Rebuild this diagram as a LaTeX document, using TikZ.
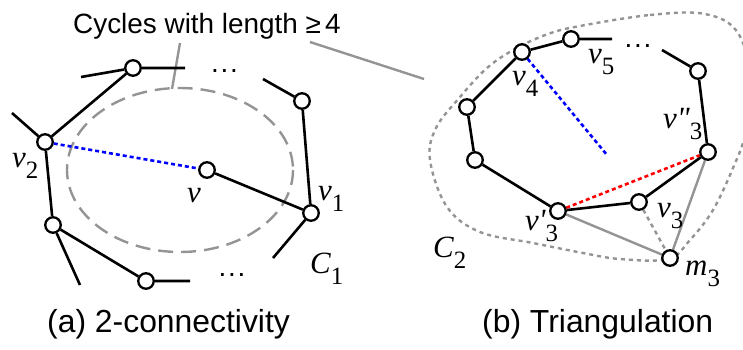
\documentclass[tikz,border=0pt]{standalone}
\usepackage{fontspec}
\setmainfont{Liberation Sans}
\newfontfamily\serfont{Liberation Serif}
\pgfdeclarelayer{bg}
\pgfsetlayers{bg,main}
\newcommand{\lab}[2]{{\serfont\fontsize{31}{31}\selectfont\itshape #1}\raisebox{-11bp}{\serfont\fontsize{25}{25}\selectfont #2}}
\newcommand{\mydots}{.\hspace{1.8bp}.\hspace{1.8bp}.}
\begin{document}
\begin{tikzpicture}[x=1bp,y=-1bp,
  vtx/.style={circle,draw=black,fill=white,line width=2.3bp,minimum size=15.5bp,inner sep=0pt},
  edge/.style={line width=2.6bp,black},
  gedge/.style={line width=2.4bp,color=black!42},
  bdot/.style={line width=2.6bp,blue,dash pattern=on 4bp off 3bp},
  rdot/.style={line width=2.6bp,red,dash pattern=on 4bp off 3bp},
  gdot/.style={line width=2.4bp,color=black!42,dash pattern=on 4bp off 4bp},
  gdash/.style={line width=2.4bp,color=black!42,dash pattern=on 15bp off 8bp},
  lbl/.style={anchor=base west,inner sep=0pt},
  dts/.style={anchor=base,inner sep=0pt,font=\fontsize{28}{28}\selectfont},
  captxt/.style={anchor=base west,inner sep=0pt,font=\fontsize{32}{32}\selectfont}
]
\useasboundingbox (0,0) rectangle (743,349);

% ---------------- left panel ----------------
\node[vtx] (A) at (133,68) {};
\node[vtx] (v2) at (45,142) {};
\node[vtx] (B) at (53,225) {};
\node[vtx] (C) at (146,281) {};
\node[vtx] (v) at (207,170) {};
\node[vtx] (v1) at (311,213) {};
\node[vtx] (D) at (302,101) {};
\coordinate (sA1) at (81,77);
\coordinate (sA2) at (185,68);
\coordinate (sD) at (263,79);
\coordinate (sv2) at (12,113);
\coordinate (sB) at (80,285);
\coordinate (sC) at (190,281);
\coordinate (sv1) at (273,258);

\node[dts] (dl1) at (224.5,72.5) {\mydots};
\node[dts] (dl2) at (232,276) {\mydots};

\node[anchor=base west,inner sep=0pt,font=\fontsize{28}{28}\selectfont] (cyc) at (73,33) {Cycles with length ≥\hspace{4bp}4};
\coordinate (cl1) at (180,43);
\coordinate (cl2) at (172,89);
\coordinate (cr1) at (310,42);
\coordinate (cr2) at (424,79);

\begin{pgfonlayer}{bg}
\draw[gdash] (180,170) ellipse [x radius=113, y radius=82];
\draw[gedge] (cl1) -- (cl2);
\draw[gedge] (cr1) -- (cr2);
\draw[edge] (sA1) -- (A) -- (sA2);
\draw[edge] (A) -- (v2) -- (B) -- (C) -- (sC);
\draw[edge] (sv2) -- (v2);
\draw[edge] (B) -- (sB);
\draw[edge] (sD) -- (D) -- (v1) -- (sv1);
\draw[edge] (v) -- (v1);
\draw[bdot] (v2) -- (v);
\end{pgfonlayer}

\node[lbl] (lv2) at (12,167) {\lab{v}{2}};
\node[lbl] (lv) at (187,202) {\lab{v}{}};
\node[lbl] (lv1) at (318,200) {\lab{v}{1}};
\node[lbl] (lC1) at (310,273) {\lab{C}{1}};

% ---------------- right panel ----------------
\node[vtx] (v4) at (522,52) {};
\node[vtx] (v5) at (571,39) {};
\node[vtx] (E) at (698,71) {};
\node[vtx] (v3pp) at (708,152) {};
\node[vtx] (v3) at (639,202) {};
\node[vtx] (v3p) at (558,211) {};
\node[vtx] (m3) at (670,258) {};
\node[vtx] (L1) at (467,107) {};
\node[vtx] (L2) at (475,160) {};
\coordinate (sv5) at (612,39);
\coordinate (sE) at (662,50);
\coordinate (bend) at (607,155);
\node[dts] (dr) at (638,47) {\mydots};

\begin{pgfonlayer}{bg}
\draw[gdot] plot[smooth cycle,tension=0.6] coordinates {
  (580,26) (650,15) (705,14) (738,33) (752,85) (745,135) (733,168) (713,210)
  (690,240) (668,259) (620,259) (583,253) (533,243) (480,232) (447,207)
  (430,160) (436,128) (460,97) (487,68) (515,49) (548,34)};
\draw[gedge] (v3p) -- (m3) -- (v3pp);
\draw[gdot] (v3) -- (m3);
\draw[edge] (L2) -- (L1) -- (v4) -- (v5) -- (sv5);
\draw[edge] (sE) -- (E) -- (v3pp) -- (v3) -- (v3p) -- (L2);
\draw[rdot] (v3p) -- (v3pp);
\draw[bdot] (v4) -- (bend);
\end{pgfonlayer}

\node[lbl] (lv4) at (512,85) {\lab{v}{4}};
\node[lbl] (lv5) at (588,63) {\lab{v}{5}};
\node[lbl] (lv3pp) at (663,128) {\lab{v\char"22}{3}};
\node[lbl] (lv3) at (657,217) {\lab{v}{3}};
\node[lbl] (lv3p) at (525,230) {\lab{v\char"27}{3}};
\node[lbl] (lm3) at (685,275) {\lab{m}{3}};
\node[lbl] (lC2) at (433,257) {\lab{C}{2}};

% captions
\node[captxt] (capa) at (47,332) {(a) 2-connectivity};
\node[captxt] (capb) at (482,332) {(b) Triangulation};
\end{tikzpicture}
\end{document}
